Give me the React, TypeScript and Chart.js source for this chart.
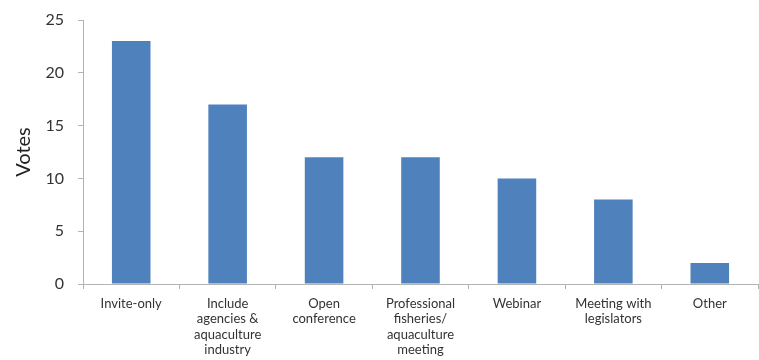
import React, { useEffect, useRef } from "react";
import { Chart, registerables } from "chart.js";

Chart.register(...registerables);

const categories: (string | string[])[] = [
  "Invite-only",
  ["Include", "agencies &", "aquaculture", "industry"],
  ["Open", "conference"],
  ["Professional", "fisheries/", "aquaculture", "meeting"],
  "Webinar",
  ["Meeting with", "legislators"],
  "Other",
];
const votes: number[] = [23, 17, 12, 12, 10, 8, 2];
const yTicks = { min: 0, max: 25, step: 5 };

export default function App() {
  const ref = useRef<HTMLCanvasElement | null>(null);
  useEffect(() => {
    if (!ref.current) return;
    const axisColor = "#b3b3b3";
    const chart = new Chart(ref.current, {
      type: "bar",
      data: {
        labels: categories as any,
        datasets: [
          {
            label: "Votes",
            data: votes,
            backgroundColor: "#4F81BD",
            borderWidth: 0,
            barPercentage: 0.4,
            categoryPercentage: 1,
          },
        ],
      },
      options: {
        responsive: false,
        animation: false,
        layout: { padding: { top: 20, right: 1, bottom: 0, left: 0 } },
        plugins: { legend: { display: false }, tooltip: { enabled: false } },
        scales: {
          x: {
            offset: true,
            grid: {
              offset: true,
              drawOnChartArea: false,
              drawTicks: true,
              tickLength: 5,
              color: axisColor,
            },
            border: { color: axisColor },
            ticks: {
              color: "#333",
              padding: 7,
              maxRotation: 0,
              autoSkip: false,
              font: { family: "Lato", size: 13, lineHeight: 1.18 },
            },
            afterFit: (s: any) => {
              s.height = 76;
              s.paddingLeft = 0;
              s.paddingRight = 0;
            },
          },
          y: {
            min: yTicks.min,
            max: yTicks.max,
            ticks: {
              stepSize: yTicks.step,
              color: "#333",
              padding: 14,
              font: { family: "Lato", size: 16 },
            },
            grid: {
              drawOnChartArea: false,
              drawTicks: true,
              tickLength: 5,
              color: axisColor,
            },
            border: { color: axisColor },
            title: {
              display: true,
              text: "Votes",
              color: "#222",
              padding: { top: 12, bottom: 0 },
              font: { family: "Lato", size: 20 },
            },
            afterFit: (s: any) => {
              s.width = 83;
              s.paddingTop = 0;
              s.paddingBottom = 0;
            },
          },
        },
      },
    });
    return () => chart.destroy();
  }, []);
  return (
    <div style={{ position: "fixed", left: 0, top: 0, width: 759, height: 360, background: "#fff" }}>
      <canvas ref={ref} width={759} height={360} style={{ display: "block" }} />
    </div>
  );
}
